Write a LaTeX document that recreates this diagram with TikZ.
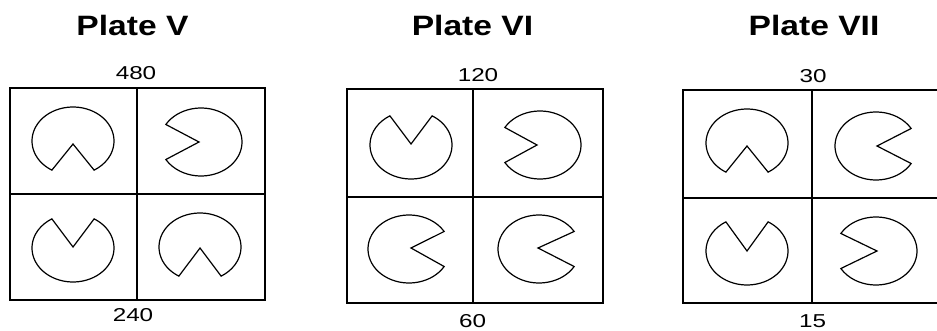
\documentclass[tikz,border=0pt]{standalone}
\usepackage{fontspec}
\setmainfont{Liberation Sans}
\tikzset{
  gridline/.style={line width=1pt},
  pacman/.style={line width=0.9pt, line join=miter},
  platetitle/.style={font=\fontsize{21}{24}\selectfont\bfseries, inner sep=0pt},
  numlabel/.style={font=\fontsize{14}{16}\selectfont, inner sep=0pt}
}
% #1,#2 centre; #3 notch direction (90 = down, 270 = up, 0 = right, 180 = left); #4,#5 apex offset
\newcommand\pacshape[5]{%
  \draw[pacman,shift={(#1,#2)}] (#4,#5) -- (#3+31:41 and 34)
    arc[start angle=#3+31,end angle=#3+329,x radius=41,y radius=34] -- cycle;}
\begin{document}
\begin{tikzpicture}[x=0.75pt,y=-0.75pt]
\useasboundingbox (0,0) rectangle (937,331);
% Plate V
\node[platetitle] (tV) at (132.5,25) {\scalebox{1.2}[1]{Plate V}};
\node[numlabel] (nV1) at (136,73) {\scalebox{1.3}[1]{480}};
\node[numlabel] (nV2) at (133,315.5) {\scalebox{1.3}[1]{240}};
\draw[gridline] (10,88) rectangle (265,300);
\draw[gridline] (137,88) -- (137,300);
\draw[gridline] (10,194) -- (265,194);
\pacshape{73}{141}{90}{0}{3}
\pacshape{201}{142}{180}{-2}{0}
\pacshape{73}{248}{270}{0}{-1}
\pacshape{200}{247}{90}{0}{1}
% Plate VI
\node[platetitle] (tVI) at (472.5,25) {\scalebox{1.2}[1]{Plate VI}};
\node[numlabel] (nVI1) at (478,75) {\scalebox{1.3}[1]{120}};
\node[numlabel] (nVI2) at (472.5,321.5) {\scalebox{1.3}[1]{60}};
\draw[gridline] (347,89) rectangle (603,303);
\draw[gridline] (473,89) -- (473,303);
\draw[gridline] (347,197) -- (603,197);
\pacshape{411}{145}{270}{0}{-1}
\pacshape{540}{145}{180}{-3}{0}
\pacshape{409}{249}{0}{2}{-1}
\pacshape{539}{249}{0}{-1}{-1}
% Plate VII
\node[platetitle] (tVII) at (814,25.5) {\scalebox{1.2}[1]{Plate VII}};
\node[numlabel] (nVII1) at (813,76.5) {\scalebox{1.3}[1]{30}};
\node[numlabel] (nVII2) at (812.5,321) {\scalebox{1.3}[1]{15}};
\draw[gridline] (940,90) -- (683,90) -- (683,303) -- (940,303);
\draw[gridline] (812,90) -- (812,303);
\draw[gridline] (683,198) -- (940,198);
\pacshape{747}{143}{90}{0}{3}
\pacshape{876}{146}{0}{1}{0}
\pacshape{747}{251}{270}{0}{0}
\pacshape{876}{251}{180}{1}{0}
\end{tikzpicture}
\end{document}
